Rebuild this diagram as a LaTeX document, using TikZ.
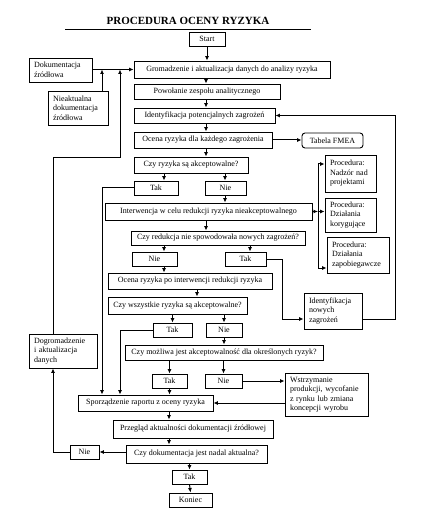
\documentclass[tikz,border=0pt]{standalone}
\usepackage{fontspec}
\setmainfont{Liberation Serif}
\usetikzlibrary{arrows.meta}
\tikzset{
  box/.style={draw, line width=0.9pt, inner sep=1pt, fill=white,
    font=\fontsize{8}{9.5}\selectfont},
  mbox/.style={box, align=left, inner xsep=5pt},
  conn/.style={line width=1pt, -{Latex[length=4.5pt,width=4pt]}},
  titletext/.style={font=\fontsize{11}{13}\selectfont\bfseries},
}
\begin{document}
\begin{tikzpicture}[x=1pt,y=-1pt]
\useasboundingbox (0,0) rectangle (423,521);
% title
\node[titletext] (title) at (188,21) {PROCEDURA OCENY RYZYKA};
\draw[line width=0.8pt] (65,29) -- (311,29);

% column / row coordinates
\coordinate (xa) at (206,0);
\coordinate (xb) at (164,0);
\coordinate (xc) at (225,0);
\coordinate (xd) at (250,0);
\coordinate (xe) at (197,0);
\coordinate (xg) at (169,0);
\coordinate (xl1) at (102,0);
\coordinate (xl2) at (120,0);
\coordinate (xl3) at (53,0);
\coordinate (xbus) at (318,0);
\coordinate (xr) at (395,0);
\coordinate (xt) at (282,0);
\coordinate (yp1) at (0,164);
\coordinate (yp3) at (0,268);
\coordinate (yin) at (0,319);
\coordinate (ylp) at (0,158);

% main nodes
\node[box, minimum width=36pt, minimum height=14pt] (start) at (207,39) {Start};
\node[box, minimum width=196pt, minimum height=17pt] (grom) at (232,69.5) {Gromadzenie i aktualizacja danych do analizy ryzyka};
\node[box, minimum width=146pt, minimum height=15pt] (powol) at (207,91.5) {Powołanie zespołu analitycznego};
\node[box, minimum width=141pt, minimum height=15pt] (ident) at (204.5,115.5) {Identyfikacja potencjalnych zagrożeń};
\node[box, minimum width=138pt, minimum height=16pt] (ocena) at (203,140) {Ocena ryzyka dla każdego zagrożenia};
\node[box, rounded corners=3pt, minimum width=61pt, minimum height=15pt] (fmea) at (332.5,140.5) {Tabela FMEA};
\node[box, minimum width=114pt, minimum height=16pt] (czyryz) at (191,165) {Czy ryzyka są akceptowalne?};
\node[box, minimum width=44pt, minimum height=14pt] (tak1) at (156,188) {Tak};
\node[box, minimum width=41pt, minimum height=14pt] (nie1) at (225.5,188) {Nie};
\node[box, minimum width=207pt, minimum height=17pt] (interw) at (208.5,211.5) {Interwencja w celu redukcji ryzyka nieakceptowalnego};
\node[box, minimum width=174pt, minimum height=14pt] (czyred) at (218,238) {Czy redukcja nie spowodowała nowych zagrożeń?};
\node[box, minimum width=45pt, minimum height=14pt] (nie2) at (154.5,259) {Nie};
\node[box, minimum width=41pt, minimum height=14pt] (tak2) at (245.5,259) {Tak};
\node[box, minimum width=164pt, minimum height=16pt] (ocenapo) at (190,281) {Ocena ryzyka po interwencji redukcji ryzyka};
\node[box, minimum width=139pt, minimum height=17pt] (czywsz) at (177.5,305.5) {Czy wszystkie ryzyka są akceptowalne?};
\node[box, minimum width=39pt, minimum height=14pt] (tak3) at (172.5,330) {Tak};
\node[box, minimum width=36pt, minimum height=14pt] (nie3) at (224,330) {Nie};
\node[box, minimum width=198pt, minimum height=15pt] (czymoz) at (224,352.5) {Czy możliwa jest akceptowalność dla określonych ryzyk?};
\node[box, minimum width=35pt, minimum height=14pt] (tak4) at (169.5,381) {Tak};
\node[box, minimum width=37pt, minimum height=14pt] (nie4) at (223.5,381) {Nie};
\node[box, minimum width=135pt, minimum height=16pt] (spor) at (145.5,403) {Sporządzenie raportu z oceny ryzyka};
\node[box, minimum width=160pt, minimum height=18pt] (przeg) at (193,429) {Przegląd aktualności dokumentacji źródłowej};
\node[box, minimum width=141pt, minimum height=18pt] (czydok) at (196.5,454) {Czy dokumentacja jest nadal aktualna?};
\node[box, minimum width=29pt, minimum height=14pt] (nie5) at (84.5,452) {Nie};
\node[box, minimum width=35pt, minimum height=14pt] (tak5) at (189.5,477) {Tak};
\node[box, minimum width=43pt, minimum height=14pt] (koniec) at (190.5,500) {Koniec};

% multi-line nodes
\node[mbox, text width=53pt, minimum height=24pt] (dok) at (60.5,70) {Dokumentacja\\źródłowa};
\node[mbox, text width=50pt, minimum height=34pt] (nieakt) at (78,108) {Nieaktualna\\dokumentacja\\źródłowa};
\node[mbox, text width=58pt, minimum height=34pt] (dogrom) at (63,351) {Dogromadzenie\\i aktualizacja\\danych};
\node[mbox, text width=48pt, minimum height=36pt] (identnow) at (333,311) {Identyfikacja\\nowych\\zagrożeń};
\node[mbox, text width=41pt, minimum height=37pt] (proc1) at (350.5,173.5) {Procedura:\\Nadzór nad\\projektami};
\node[mbox, text width=41pt, minimum height=34pt] (proc2) at (350.5,215) {Procedura:\\Działania\\korygujące};
\node[mbox, text width=52pt, minimum height=36pt] (proc3) at (358,255) {Procedura:\\Działania\\zapobiegawcze};
\node[mbox, text width=73pt, minimum height=43pt] (wstrz) at (326.5,394.5) {Wstrzymanie\\produkcji, wycofanie\\z rynku lub zmiana\\koncepcji wyrobu};

% connectors: main column
\draw[conn] (start.south) -- (start.south |- grom.north);
\draw[conn] (grom.south -| xa) -- (powol.north -| xa);
\draw[conn] (powol.south -| xa) -- (ident.north -| xa);
\draw[conn] (ident.south -| xa) -- (ocena.north -| xa);
\draw[conn] (ocena.south -| xa) -- (czyryz.north -| xa);
\draw[conn] (ocena.east) -- (ocena.east -| fmea.west);
\draw[conn] (czyryz.south -| xb) -- (tak1.north -| xb);
\draw[conn] (czyryz.south -| xc) -- (nie1.north -| xc);
\draw[conn] (nie1.south -| xc) -- (interw.north -| xc);
\draw[conn] (tak1.west) -| (spor.north -| xl1);
\draw[conn] (interw.south -| xa) -- (czyred.north -| xa);
% procedures bus
\draw[conn] (interw.east) -- (interw.east -| xbus);
\draw[line width=1pt] (xbus |- yp1) -- (xbus |- yp3);
\draw[conn] (xbus |- yp1) -- (proc1.west |- yp1);
\draw[conn] (xbus |- interw.east) -- (proc2.west |- interw.east);
\draw[conn] (xbus |- yp3) -- (proc3.west |- yp3);
% reduction branch
\draw[conn] (czyred.south -| xb) -- (nie2.north -| xb);
\draw[conn] (czyred.south -| xd) -- (tak2.north -| xd);
\draw[conn] (tak2.east) -| (xt |- yin) -- (identnow.west |- yin);
\draw[conn] (identnow.east |- yin) -| (xr |- ident.east) -- (ident.east);
\draw[conn] (nie2.south -| xb) -- (ocenapo.north -| xb);
\draw[conn] (ocenapo.south -| xe) -- (czywsz.north -| xe);
\draw[conn] (czywsz.south -| tak3.north) -- (tak3.north);
\draw[conn] (czywsz.south -| nie3.north) -- (nie3.north);
\draw[conn] (tak3.west) -| (spor.north -| xl2);
\draw[conn] (nie3.south) -- (nie3.south |- czymoz.north);
\draw[conn] (czymoz.south -| tak4.north) -- (tak4.north);
\draw[conn] (czymoz.south -| nie4.north) -- (nie4.north);
\draw[conn] (tak4.south) -- (tak4.south |- spor.north);
\draw[conn] (nie4.east) -- (nie4.east -| wstrz.west);
\draw[conn] (wstrz.west |- spor.east) -- (spor.east);
% bottom
\draw[conn] (spor.south -| xg) -- (przeg.north -| xg);
\draw[conn] (przeg.south -| xg) -- (czydok.north -| xg);
\draw[conn] (czydok.south -| tak5.north) -- (tak5.north);
\draw[conn] (tak5.south) -- (koniec.north);
\draw[conn] (czydok.west |- nie5.east) -- (nie5.east);
\draw[conn] (nie5.west) -| (dogrom.south -| xl3);
\draw[conn] (dogrom.north -| xl3) |- (xl2 |- ylp) -- (xl2 |- grom.west);
\draw[conn] (nieakt.north -| xl1) -- (xl1 |- grom.west);
\draw[conn] (dok.east |- grom.west) -- (grom.west);
\end{tikzpicture}
\end{document}
